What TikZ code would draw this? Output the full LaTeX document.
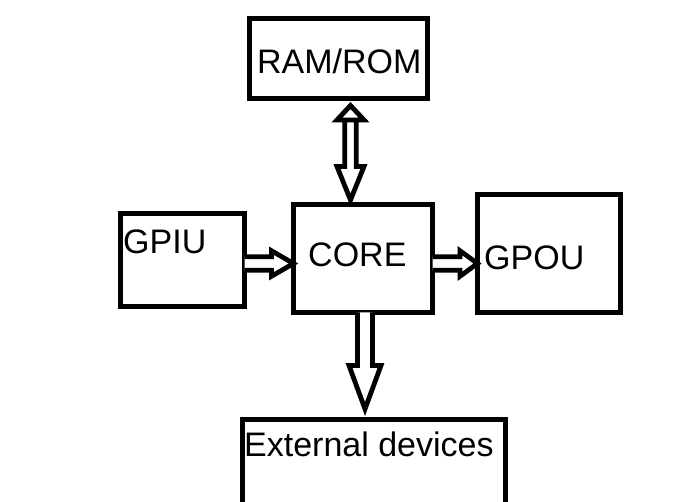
\documentclass[tikz,border=0pt]{standalone}
\usepackage{fontspec}
\setmainfont{Liberation Sans}
\usetikzlibrary{calc}

% hollow block arrow: from, to, shaft half width, head half width, head length
\newcommand{\hollowarrow}[5]{%
  \draw[blockarrow] let \p1=($(#2)-(#1)$), \n1={veclen(\x1,\y1)}, \n2={atan2(\y1,\x1)} in
    [shift={(#1)}, rotate=\n2]
    (0pt,#3pt) -- ({\n1-#5pt},#3pt) -- ({\n1-#5pt},#4pt) -- ({\n1+0pt},0pt)
    -- ({\n1-#5pt},-#4pt) -- ({\n1-#5pt},-#3pt) -- (0pt,-#3pt);
}
% two headed one: from, to, shaft half width, head half width, head length at from, head length at to
\newcommand{\hollowdoublearrow}[6]{%
  \draw[blockarrow] let \p1=($(#2)-(#1)$), \n1={veclen(\x1,\y1)}, \n2={atan2(\y1,\x1)} in
    [shift={(#1)}, rotate=\n2]
    (0pt,0pt) -- (#5pt,#4pt) -- (#5pt,-#4pt) -- cycle
    (#5pt,#3pt) -- ({\n1-#6pt},#3pt) -- ({\n1-#6pt},#4pt) -- ({\n1+0pt},0pt)
    -- ({\n1-#6pt},-#4pt) -- ({\n1-#6pt},-#3pt) -- (#5pt,-#3pt) -- cycle;
}

\begin{document}
\begin{tikzpicture}[x=1pt, y=-1pt,
    box/.style={draw, line width=5pt, rectangle, outer sep=0pt, inner sep=0pt},
    blockarrow/.style={draw, line width=4.8pt, fill=white},
    lbl/.style={inner sep=0pt, anchor=base west, font=\fontsize{34}{40}\selectfont}]
    \useasboundingbox (0,0) rectangle (681,502);

    \node (ram)  [box, minimum width=178pt, minimum height=80pt]    at (338.5,58.5) {};
    \node (gpiu) [box, minimum width=124pt, minimum height=93pt]    at (182.5,260) {};
    \node (core) [box, minimum width=139pt, minimum height=108pt]   at (363,258.5) {};
    \node (gpou) [box, minimum width=143pt, minimum height=118pt]   at (549,253.5) {};
    \node (ext)  [box, minimum width=263pt, minimum height=120.5pt] at (374,479.75) {};

    \node (ramtext)  [lbl] at (257,74)  {RAM/ROM};
    \node (gpiutext) [lbl] at (123,254) {GPIU};
    \node (coretext) [lbl] at (308,267) {CORE};
    \node (gpoutext) [lbl] at (484,270) {GPOU};
    \node (exttext)  [lbl] at (244,457) {External devices};

    \coordinate (ramout)  at ($(ram.south)+(12,7)$);
    \coordinate (corein)  at ($(core.north)+(-12.5,-4.5)$);
    \coordinate (gpiuout) at ($(gpiu.east)+(0,3.5)$);
    \coordinate (coreleft) at ($(core.west)+(0,5)$);
    \coordinate (coreright) at ($(core.east)+(0,5)$);
    \coordinate (gpouin)  at ($(gpou.west)+(0,10)$);
    \coordinate (coreout) at ($(core.south)+(2,0)$);
    \coordinate (extin)   at ($(ext.north)+(-9,-10.5)$);

    \hollowdoublearrow{ramout}{corein}{5.75}{13.5}{14.5}{33.5}
    \hollowarrow{gpiuout}{coreleft}{6.75}{12.75}{22}
    \hollowarrow{coreright}{gpouin}{6.75}{12.75}{17.5}
    \hollowarrow{coreout}{extin}{7.5}{16}{43.5}
\end{tikzpicture}
\end{document}
